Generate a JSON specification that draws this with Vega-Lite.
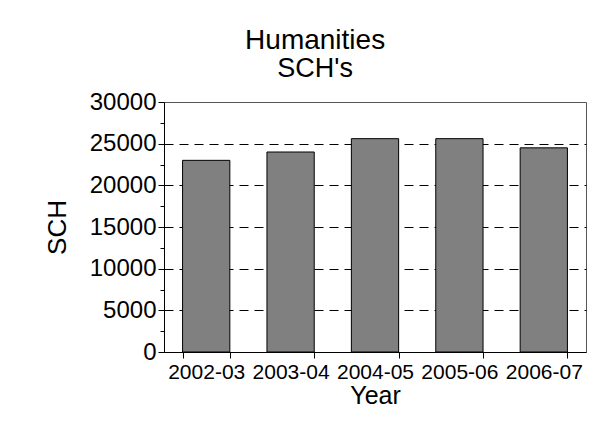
{
  "$schema": "https://vega.github.io/schema/vega-lite/v6.json",
  "width": 422,
  "height": 250,
  "padding": {"left": 44, "top": 27, "right": 20, "bottom": 10},
  "background": "white",
  "title": {
    "text": "Humanities",
    "subtitle": "SCH's",
    "fontSize": 28,
    "subtitleFontSize": 27,
    "font": "Liberation Sans",
    "subtitleFont": "Liberation Sans",
    "fontWeight": "normal",
    "color": "black",
    "subtitleColor": "black",
    "anchor": "middle",
    "frame": "bounds",
    "subtitlePadding": 1,
    "offset": 8
  },
  "data": {
    "values": [
      {"Year": "2002-03", "SCH": 23000},
      {"Year": "2003-04", "SCH": 24000},
      {"Year": "2004-05", "SCH": 25600},
      {"Year": "2005-06", "SCH": 25600},
      {"Year": "2006-07", "SCH": 24500}
    ]
  },
  "mark": {"type": "bar", "fill": "#808080", "stroke": "black", "strokeWidth": 1},
  "encoding": {
    "x": {
      "field": "Year",
      "type": "nominal",
      "scale": {"paddingInner": 0.44, "paddingOuter": 0.22},
      "axis": {
        "title": "Year",
        "labelAngle": 0,
        "tickBand": "extent",
        "tickSize": 6,
        "labelFontSize": 21,
        "titleFontSize": 25,
        "labelPadding": 3,
        "titlePadding": 1
      }
    },
    "y": {
      "field": "SCH",
      "type": "quantitative",
      "scale": {"domain": [0, 30000], "nice": false},
      "axis": {
        "title": "SCH",
        "values": [0, 2500, 5000, 7500, 10000, 12500, 15000, 17500, 20000, 22500, 25000, 27500, 30000],
        "labelExpr": "datum.value % 5000 === 0 ? datum.value : ''",
        "format": "d",
        "tickSize": {"condition": {"test": "datum.value % 5000 === 0", "value": 6}, "value": 4},
        "grid": true,
        "gridOpacity": {"condition": {"test": "datum.value % 5000 === 0 && datum.value > 0 && datum.value < 30000", "value": 1}, "value": 0},
        "gridDash": [9, 6],
        "gridColor": "black",
        "labelFontSize": 24,
        "titleFontSize": 26,
        "labelPadding": 2,
        "titlePadding": 19
      }
    }
  },
  "config": {
    "font": "Liberation Sans",
    "view": {"stroke": "#555555", "strokeWidth": 1},
    "axis": {
      "domainColor": "black",
      "tickColor": "black",
      "labelColor": "black",
      "titleColor": "black",
      "titleFontWeight": "normal",
      "labelFont": "Liberation Sans",
      "titleFont": "Liberation Sans",
      "gridWidth": 1
    },
    "axisX": {"grid": false}
  }
}
